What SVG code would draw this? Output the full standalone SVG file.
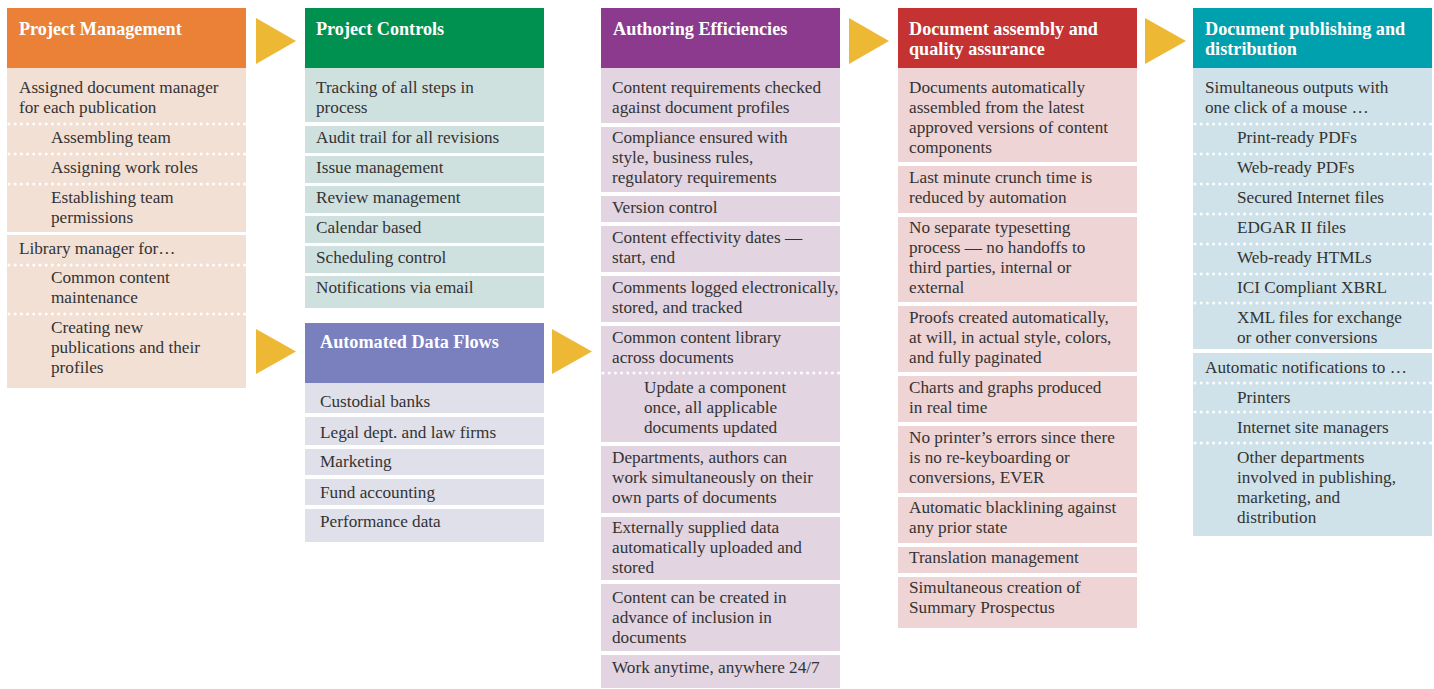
<svg xmlns="http://www.w3.org/2000/svg" width="1434" height="689" viewBox="0 0 1434 689">
<style>
text{font-family:"Liberation Serif","Times New Roman",serif}
.t{font-size:17.2px;fill:#333}
.h{font-size:18.2px;font-weight:bold;fill:#fff}
.dot{stroke:#fff;stroke-width:3;stroke-linecap:round;stroke-dasharray:0 6.2;fill:none}
.arr{fill:#EDB834}
.pm-h{fill:#EA8137}.pm-b{fill:#F2E0D5}
.pc-h{fill:#009150}.pc-b{fill:#CFE1DF}
.ad-h{fill:#7A80BE}.ad-b{fill:#DFE0EA}
.ae-h{fill:#8B3A8E}.ae-b{fill:#E2D4E1}
.da-h{fill:#C53232}.da-b{fill:#EFD4D5}
.dp-h{fill:#00A1AF}.dp-b{fill:#CFE2E9}
</style>
<rect width="1434" height="689" fill="#fff"/>

<g id="connectors">
<polygon class="arr" points="256,18 296,41 256,64"/>
<polygon class="arr" points="256,329 296,351.5 256,374"/>
<polygon class="arr" points="849,18 889,41 849,64"/>
<polygon class="arr" points="552,329 592,351.5 552,374"/>
<polygon class="arr" points="1145,18 1186,41 1145,64"/>
</g>

<g id="project-management">
<rect class="pm-h" x="7" y="8" width="239" height="60"/>
<text class="h" x="19" y="35">Project Management</text>
<rect class="pm-b" x="7" y="68" width="239" height="164"/>
<rect class="pm-b" x="7" y="235" width="239" height="153"/>
<line class="dot" x1="9" y1="124" x2="246" y2="124"/>
<line class="dot" x1="9" y1="154" x2="246" y2="154"/>
<line class="dot" x1="9" y1="184" x2="246" y2="184"/>
<line class="dot" x1="9" y1="265" x2="246" y2="265"/>
<line class="dot" x1="9" y1="314" x2="246" y2="314"/>
<text class="t" x="19" y="93">Assigned document manager</text>
<text class="t" x="19" y="113">for each publication</text>
<text class="t" x="51" y="143">Assembling team</text>
<text class="t" x="51" y="173">Assigning work roles</text>
<text class="t" x="51" y="203">Establishing team</text>
<text class="t" x="51" y="223">permissions</text>
<text class="t" x="19" y="254">Library manager for…</text>
<text class="t" x="51" y="283">Common content</text>
<text class="t" x="51" y="303">maintenance</text>
<text class="t" x="51" y="333">Creating new</text>
<text class="t" x="51" y="353">publications and their</text>
<text class="t" x="51" y="373">profiles</text>
</g>

<g id="project-controls">
<rect class="pc-h" x="305" y="8" width="239" height="60"/>
<text class="h" x="316" y="35">Project Controls</text>
<rect class="pc-b" x="305" y="68" width="239" height="54"/>
<rect class="pc-b" x="305" y="126" width="239" height="27"/>
<rect class="pc-b" x="305" y="156" width="239" height="27"/>
<rect class="pc-b" x="305" y="186" width="239" height="27"/>
<rect class="pc-b" x="305" y="216" width="239" height="27"/>
<rect class="pc-b" x="305" y="246" width="239" height="27"/>
<rect class="pc-b" x="305" y="276" width="239" height="32"/>
<text class="t" x="316" y="93">Tracking of all steps in</text>
<text class="t" x="316" y="113">process</text>
<text class="t" x="316" y="143">Audit trail for all revisions</text>
<text class="t" x="316" y="173">Issue management</text>
<text class="t" x="316" y="203">Review management</text>
<text class="t" x="316" y="233">Calendar based</text>
<text class="t" x="316" y="263">Scheduling control</text>
<text class="t" x="316" y="293">Notifications via email</text>
</g>

<g id="automated-data-flows">
<rect class="ad-h" x="305" y="323" width="239" height="60"/>
<text class="h" x="320" y="348">Automated Data Flows</text>
<rect class="ad-b" x="305" y="383" width="239" height="30"/>
<rect class="ad-b" x="305" y="417" width="239" height="28"/>
<rect class="ad-b" x="305" y="449" width="239" height="26"/>
<rect class="ad-b" x="305" y="479" width="239" height="26"/>
<rect class="ad-b" x="305" y="509" width="239" height="33"/>
<text class="t" x="320" y="407">Custodial banks</text>
<text class="t" x="320" y="438">Legal dept. and law firms</text>
<text class="t" x="320" y="467">Marketing</text>
<text class="t" x="320" y="498">Fund accounting</text>
<text class="t" x="320" y="527">Performance data</text>
</g>

<g id="authoring-efficiencies">
<rect class="ae-h" x="601" y="8" width="239" height="60"/>
<text class="h" x="613" y="35">Authoring Efficiencies</text>
<rect class="ae-b" x="601" y="68" width="239" height="55"/>
<rect class="ae-b" x="601" y="127" width="239" height="65"/>
<rect class="ae-b" x="601" y="196" width="239" height="26"/>
<rect class="ae-b" x="601" y="226" width="239" height="46"/>
<rect class="ae-b" x="601" y="276" width="239" height="46"/>
<rect class="ae-b" x="601" y="326" width="239" height="116"/>
<rect class="ae-b" x="601" y="446" width="239" height="67"/>
<rect class="ae-b" x="601" y="517" width="239" height="63"/>
<rect class="ae-b" x="601" y="584" width="239" height="67"/>
<rect class="ae-b" x="601" y="655" width="239" height="33"/>
<line class="dot" x1="603" y1="373" x2="840" y2="373"/>
<text class="t" x="612" y="93">Content requirements checked</text>
<text class="t" x="612" y="113">against document profiles</text>
<text class="t" x="612" y="143">Compliance ensured with</text>
<text class="t" x="612" y="163">style, business rules,</text>
<text class="t" x="612" y="183">regulatory requirements</text>
<text class="t" x="612" y="213">Version control</text>
<text class="t" x="612" y="243">Content effectivity dates —</text>
<text class="t" x="612" y="263">start, end</text>
<text class="t" x="612" y="293">Comments logged electronically,</text>
<text class="t" x="612" y="313">stored, and tracked</text>
<text class="t" x="612" y="343">Common content library</text>
<text class="t" x="612" y="363">across documents</text>
<text class="t" x="644" y="393">Update a component</text>
<text class="t" x="644" y="413">once, all applicable</text>
<text class="t" x="644" y="433">documents updated</text>
<text class="t" x="612" y="463">Departments, authors can</text>
<text class="t" x="612" y="483">work simultaneously on their</text>
<text class="t" x="612" y="503">own parts of documents</text>
<text class="t" x="612" y="533">Externally supplied data</text>
<text class="t" x="612" y="553">automatically uploaded and</text>
<text class="t" x="612" y="573">stored</text>
<text class="t" x="612" y="603">Content can be created in</text>
<text class="t" x="612" y="623">advance of inclusion in</text>
<text class="t" x="612" y="643">documents</text>
<text class="t" x="612" y="673">Work anytime, anywhere 24/7</text>
</g>

<g id="document-assembly">
<rect class="da-h" x="898" y="8" width="239" height="60"/>
<text class="h" x="909" y="35">Document assembly and</text>
<text class="h" x="909" y="55">quality assurance</text>
<rect class="da-b" x="898" y="68" width="239" height="94"/>
<rect class="da-b" x="898" y="166" width="239" height="47"/>
<rect class="da-b" x="898" y="217" width="239" height="85"/>
<rect class="da-b" x="898" y="306" width="239" height="66"/>
<rect class="da-b" x="898" y="376" width="239" height="46"/>
<rect class="da-b" x="898" y="426" width="239" height="67"/>
<rect class="da-b" x="898" y="497" width="239" height="46"/>
<rect class="da-b" x="898" y="547" width="239" height="26"/>
<rect class="da-b" x="898" y="577" width="239" height="51"/>
<text class="t" x="909" y="93">Documents automatically</text>
<text class="t" x="909" y="113">assembled from the latest</text>
<text class="t" x="909" y="133">approved versions of content</text>
<text class="t" x="909" y="153">components</text>
<text class="t" x="909" y="183">Last minute crunch time is</text>
<text class="t" x="909" y="203">reduced by automation</text>
<text class="t" x="909" y="233">No separate typesetting</text>
<text class="t" x="909" y="253">process — no handoffs to</text>
<text class="t" x="909" y="273">third parties, internal or</text>
<text class="t" x="909" y="293">external</text>
<text class="t" x="909" y="323">Proofs created automatically,</text>
<text class="t" x="909" y="343">at will, in actual style, colors,</text>
<text class="t" x="909" y="363">and fully paginated</text>
<text class="t" x="909" y="393">Charts and graphs produced</text>
<text class="t" x="909" y="413">in real time</text>
<text class="t" x="909" y="443">No printer’s errors since there</text>
<text class="t" x="909" y="463">is no re-keyboarding or</text>
<text class="t" x="909" y="483">conversions, EVER</text>
<text class="t" x="909" y="513">Automatic blacklining against</text>
<text class="t" x="909" y="533">any prior state</text>
<text class="t" x="909" y="563">Translation management</text>
<text class="t" x="909" y="593">Simultaneous creation of</text>
<text class="t" x="909" y="613">Summary Prospectus</text>
</g>

<g id="document-publishing">
<rect class="dp-h" x="1193" y="8" width="239" height="60"/>
<text class="h" x="1205" y="35">Document publishing and</text>
<text class="h" x="1205" y="55">distribution</text>
<rect class="dp-b" x="1193" y="68" width="239" height="281"/>
<rect class="dp-b" x="1193" y="353" width="239" height="183"/>
<line class="dot" x1="1195" y1="124" x2="1432" y2="124"/>
<line class="dot" x1="1195" y1="154" x2="1432" y2="154"/>
<line class="dot" x1="1195" y1="184" x2="1432" y2="184"/>
<line class="dot" x1="1195" y1="214" x2="1432" y2="214"/>
<line class="dot" x1="1195" y1="244" x2="1432" y2="244"/>
<line class="dot" x1="1195" y1="274" x2="1432" y2="274"/>
<line class="dot" x1="1195" y1="303" x2="1432" y2="303"/>
<line class="dot" x1="1195" y1="383" x2="1432" y2="383"/>
<line class="dot" x1="1195" y1="412" x2="1432" y2="412"/>
<line class="dot" x1="1195" y1="443" x2="1432" y2="443"/>
<text class="t" x="1205" y="93">Simultaneous outputs with</text>
<text class="t" x="1205" y="113">one click of a mouse …</text>
<text class="t" x="1237" y="143">Print-ready PDFs</text>
<text class="t" x="1237" y="173">Web-ready PDFs</text>
<text class="t" x="1237" y="203">Secured Internet files</text>
<text class="t" x="1237" y="233">EDGAR II files</text>
<text class="t" x="1237" y="263">Web-ready HTMLs</text>
<text class="t" x="1237" y="293">ICI Compliant XBRL</text>
<text class="t" x="1237" y="323">XML files for exchange</text>
<text class="t" x="1237" y="343">or other conversions</text>
<text class="t" x="1205" y="373">Automatic notifications to …</text>
<text class="t" x="1237" y="403">Printers</text>
<text class="t" x="1237" y="433">Internet site managers</text>
<text class="t" x="1237" y="463">Other departments</text>
<text class="t" x="1237" y="483">involved in publishing,</text>
<text class="t" x="1237" y="503">marketing, and</text>
<text class="t" x="1237" y="523">distribution</text>
</g>
</svg>
